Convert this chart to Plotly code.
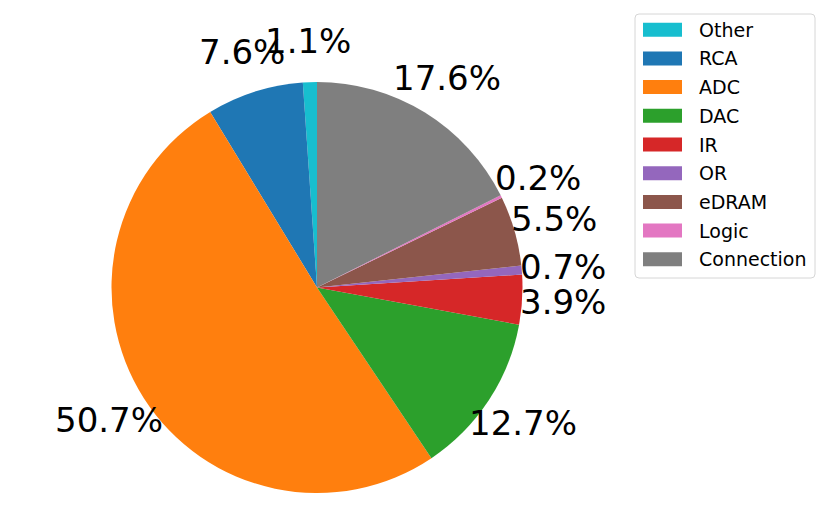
import math
import plotly.graph_objects as go

labels = ["Other", "RCA", "ADC", "DAC", "IR", "OR", "eDRAM", "Logic", "Connection"]
values = [1.1, 7.6, 50.7, 12.7, 3.9, 0.7, 5.5, 0.2, 17.6]
colors = ["#17becf", "#1f77b4", "#ff7f0e", "#2ca02c", "#d62728",
          "#9467bd", "#8c564b", "#e377c2", "#7f7f7f"]

W, H = 830, 529
cx_px, cy_px, r_px = 317, 287.5, 205.5
FONT = "DejaVu Sans"
total = sum(values)

fig = go.Figure()
fig.add_trace(go.Pie(
    labels=labels, values=values, sort=False, direction="counterclockwise",
    rotation=-values[0] / total * 360, marker=dict(colors=colors, line=dict(width=0)),
    textinfo="none", showlegend=False, hoverinfo="label+percent",
    domain=dict(x=[(cx_px - r_px) / W, (cx_px + r_px) / W],
                y=[(H - cy_px - r_px) / H, (H - cy_px + r_px) / H]),
))

annotations = []
cum = 0.0
for v in values:
    mid = 90 + (cum + v / 2) / total * 360
    cum += v
    th = math.radians(mid)
    x = (cx_px + 1.2 * r_px * math.cos(th)) / W
    y = (H - cy_px + 1.2 * r_px * math.sin(th)) / H
    annotations.append(dict(x=x, y=y, xref="paper", yref="paper",
                            text=f"{v / total * 100:.1f}%", showarrow=False,
                            xanchor="center", yanchor="middle",
                            font=dict(size=34, color="black", family=FONT)))

# legend (drawn manually to mimic matplotlib)
shapes = []
lx0, lx1, ly0, ly1, rad = 635, 815, 14, 278, 4
def px(x): return x / W
def py(y): return (H - y) / H
path = (f"M {px(lx0+rad)} {py(ly0)} L {px(lx1-rad)} {py(ly0)} "
        f"Q {px(lx1)} {py(ly0)} {px(lx1)} {py(ly0+rad)} "
        f"L {px(lx1)} {py(ly1-rad)} Q {px(lx1)} {py(ly1)} {px(lx1-rad)} {py(ly1)} "
        f"L {px(lx0+rad)} {py(ly1)} Q {px(lx0)} {py(ly1)} {px(lx0)} {py(ly1-rad)} "
        f"L {px(lx0)} {py(ly0+rad)} Q {px(lx0)} {py(ly0)} {px(lx0+rad)} {py(ly0)} Z")
shapes.append(dict(type="path", path=path, xref="paper", yref="paper",
                   line=dict(color="#d6d6d6", width=1), fillcolor="rgba(255,255,255,0.8)"))
row0, step = 29.7, 28.7
for i, (lab, col) in enumerate(zip(labels, colors)):
    yc = row0 + i * step
    shapes.append(dict(type="rect", xref="paper", yref="paper",
                       x0=px(643), x1=px(682), y0=py(yc - 7), y1=py(yc + 7),
                       fillcolor=col, line=dict(width=0)))
    annotations.append(dict(x=px(697), y=py(yc), xref="paper", yref="paper",
                            text=lab, showarrow=False, xanchor="left", yanchor="middle",
                            font=dict(size=19, color="black", family=FONT)))

fig.update_layout(
    width=W, height=H, margin=dict(l=0, r=0, t=0, b=0),
    paper_bgcolor="white", plot_bgcolor="white",
    annotations=annotations, shapes=shapes,
    font=dict(family=FONT),
)
fig.write_html("out.html", config={"displayModeBar": False},
               post_script="document.body.style.margin='0px';")
